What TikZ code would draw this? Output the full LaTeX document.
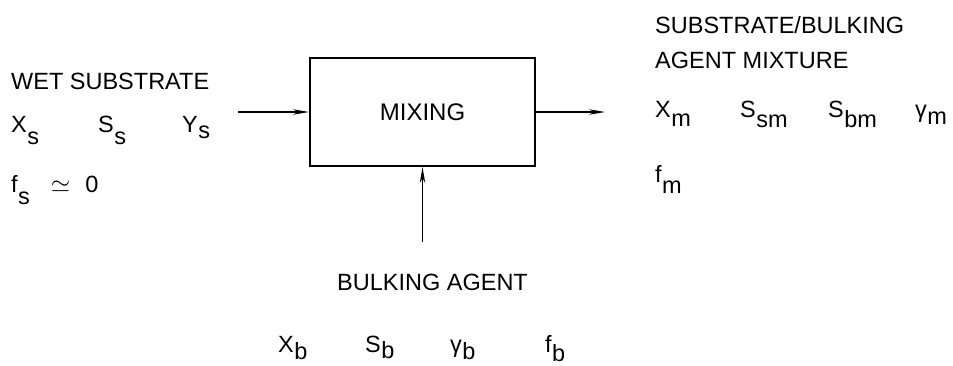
\documentclass[tikz,border=0pt]{standalone}
\usepackage{fontspec}
\setmainfont{Liberation Sans}
\usetikzlibrary{arrows.meta}
\newcommand{\vsub}[3][9pt]{#2\kern0.5pt\raisebox{-#1}{#3}}
\tikzset{
  lbl/.style={anchor=base west, inner sep=0pt, font=\fontsize{23.5}{28}\selectfont},
  blk/.style={draw, line width=2.2pt, minimum width=225pt, minimum height=108pt,
              inner sep=0pt, font=\fontsize{24}{28}\selectfont},
  flow/.style={line width=1.7pt, -{Stealth[length=16pt,width=5.5pt]}}
}
\begin{document}
\begin{tikzpicture}[x=1pt,y=-1pt]
        \useasboundingbox (0,0) rectangle (953,365);
        \node[blk](mix) at (422.5,112){MIXING};
        % wet substrate
        \node[lbl](wet) at (11,89){WET SUBSTRATE};
        \node[lbl](xs) at (11,132){\vsub[12pt]{X}{s}};
        \node[lbl](ss) at (98,132){\vsub[12pt]{S}{s}};
        \node[lbl](ys) at (182,132){\vsub[6pt]{Y}{s}};
        \node[lbl](fs) at (11,192){\vsub[12pt]{f}{s}\hspace{21pt}$\simeq$\hspace{15pt}0};
        % mixture
        \node[lbl](mixa) at (655,33){SUBSTRATE/BULKING};
        \node[lbl](mixb) at (655,68){AGENT MIXTURE};
        \node[lbl](xm) at (655,117){\vsub{X}{m}};
        \node[lbl](ssm) at (740,117){\vsub[10pt]{S}{sm}};
        \node[lbl](sbm) at (828,117){\vsub[10pt]{S}{bm}};
        \node[lbl](gm) at (915,117){\vsub[7pt]{γ}{m}};
        \node[lbl](fm) at (655,182){\vsub[11pt]{f}{m}};
        % bulking agent
        \node[lbl](bulk) at (337,290){BULKING AGENT};
        \node[lbl](xb) at (278,352){\vsub[7pt]{X}{b}};
        \node[lbl](sb) at (365,352){\vsub[6pt]{S}{b}};
        \node[lbl](gb) at (450,352){\vsub[7pt]{γ}{b}};
        \node[lbl](fb) at (545,352){\vsub[9pt]{f}{b}};
        % streams
        \coordinate(inw) at (238,112);
        \coordinate(outm) at (605,112);
        \coordinate(inb) at (422.5,242);
        \draw[flow](inw)--(mix.west);
        \draw[flow](mix.east)--(outm);
        \draw[flow](inb)--(mix.south);
      \end{tikzpicture}
\end{document}
